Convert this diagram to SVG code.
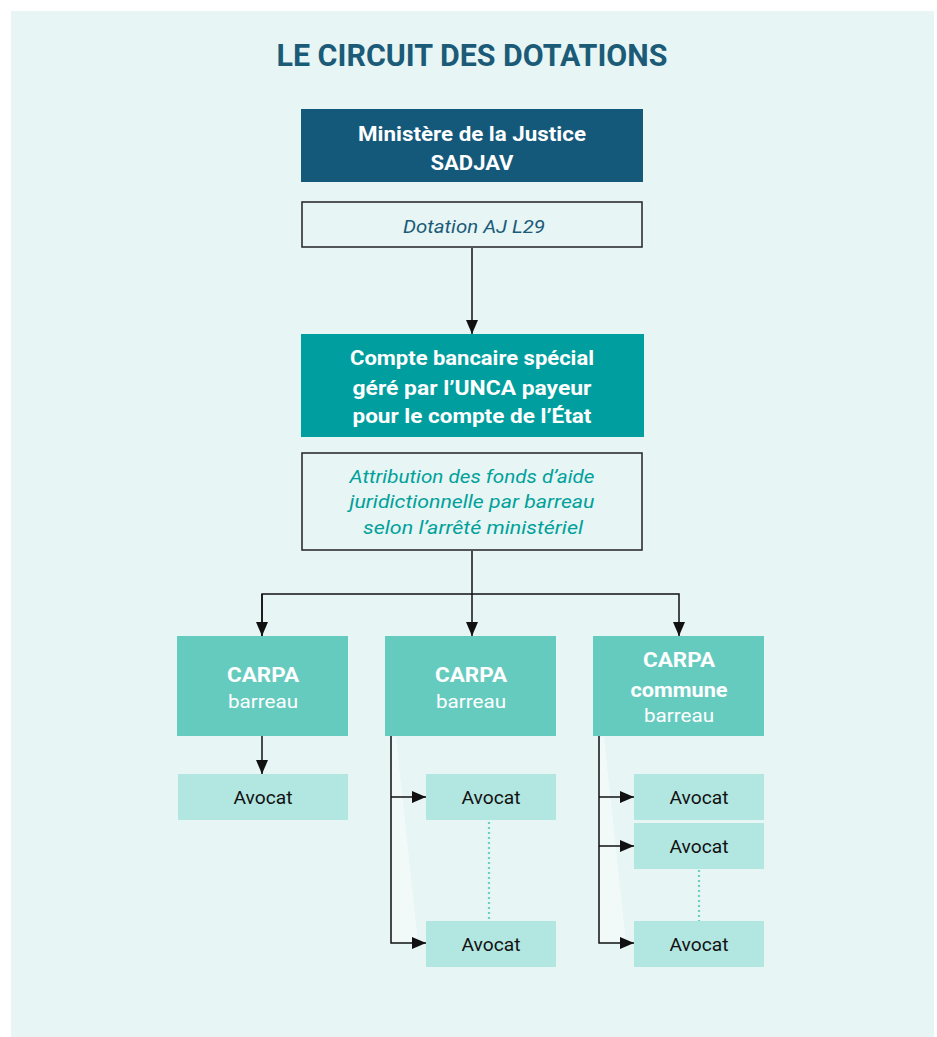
<svg xmlns="http://www.w3.org/2000/svg" width="937" height="1037" viewBox="0 0 937 1037">
<defs>
<marker id="arr" markerWidth="14" markerHeight="12" refX="14" refY="6" orient="auto" markerUnits="userSpaceOnUse" viewBox="0 0 14 12">
<path d="M0,0 L14,6 L0,12 Z" fill="#111"/>
</marker>
<style>
.t{font-family:Roboto,"Liberation Sans",sans-serif;text-anchor:middle}
.b{font-weight:bold;fill:#fff;font-size:21px}
.title{font-weight:bold;fill:#1b5b78;font-size:31px}
.it1{font-style:italic;fill:#1b5b78;font-size:19px}
.it2{font-style:italic;fill:#00a19a;font-size:19px}
.cw{fill:#fff;font-size:19px}
.av{fill:#111;font-size:19px}
.conn{fill:none;stroke:#111;stroke-width:1.5}
.dot{fill:none;stroke:#6ccfc6;stroke-width:2.2;stroke-dasharray:2 3}
.carpa{fill:#66cbbf}
.avbox{fill:#b2e6e0}
.frame{fill:#e7f5f5;stroke:#222;stroke-width:1.5}
</style>
</defs>
<rect x="11" y="11" width="923" height="1026" fill="#e7f5f5"/>
<text class="t title" x="472" y="66" textLength="391" lengthAdjust="spacingAndGlyphs">LE CIRCUIT DES DOTATIONS</text>

<g id="shades">
<polygon points="392,737 396,737 418,942 392,942" fill="#ffffff" opacity="0.45"/>
<polygon points="600,737 604,737 626,942 600,942" fill="#ffffff" opacity="0.45"/>
</g>

<g id="connectors">
<line class="conn" x1="472" y1="248" x2="472" y2="334" marker-end="url(#arr)"/>
<polyline class="conn" points="472,551 472,594"/>
<polyline class="conn" points="262,636 262,594 679,594 679,636" marker-end="url(#arr)"/>
<line class="conn" x1="262" y1="594" x2="262" y2="636" marker-end="url(#arr)"/>
<line class="conn" x1="472" y1="594" x2="472" y2="636" marker-end="url(#arr)"/>
<line class="conn" x1="262" y1="736" x2="262" y2="774" marker-end="url(#arr)"/>
<polyline class="conn" points="391,736 391,943 426,943" marker-end="url(#arr)"/>
<line class="conn" x1="391" y1="797" x2="426" y2="797" marker-end="url(#arr)"/>
<polyline class="conn" points="599,736 599,943 634,943" marker-end="url(#arr)"/>
<line class="conn" x1="599" y1="797" x2="634" y2="797" marker-end="url(#arr)"/>
<line class="conn" x1="599" y1="846" x2="634" y2="846" marker-end="url(#arr)"/>
<line class="dot" x1="489" y1="822" x2="489" y2="921"/>
<line class="dot" x1="699" y1="870" x2="699" y2="921"/>
</g>

<g id="ministere">
<rect x="301" y="109" width="342" height="73" fill="#14587a"/>
<text class="t b" x="472" y="141" textLength="228" lengthAdjust="spacingAndGlyphs">Ministère de la Justice</text>
<text class="t b" x="472" y="170" textLength="83" lengthAdjust="spacingAndGlyphs">SADJAV</text>
</g>

<g id="dotation">
<rect class="frame" x="302" y="202" width="340" height="45"/>
<text class="t it1" x="474" y="233" textLength="142" lengthAdjust="spacingAndGlyphs">Dotation AJ L29</text>
</g>

<g id="compte">
<rect x="301" y="334" width="343" height="103" fill="#009e9e"/>
<text class="t b" x="472" y="365" textLength="244" lengthAdjust="spacingAndGlyphs">Compte bancaire spécial</text>
<text class="t b" x="472" y="395" textLength="239" lengthAdjust="spacingAndGlyphs">géré par l’UNCA payeur</text>
<text class="t b" x="472" y="423" textLength="239" lengthAdjust="spacingAndGlyphs">pour le compte de l’État</text>
</g>

<g id="attribution">
<rect class="frame" x="302" y="453" width="340" height="97"/>
<text class="t it2" x="472" y="483" textLength="245" lengthAdjust="spacingAndGlyphs">Attribution des fonds d’aide</text>
<text class="t it2" x="472" y="508" textLength="245" lengthAdjust="spacingAndGlyphs">juridictionnelle par barreau</text>
<text class="t it2" x="473" y="534" textLength="220" lengthAdjust="spacingAndGlyphs">selon l’arrêté ministériel</text>
</g>

<g id="carpa1">
<rect class="carpa" x="177" y="636" width="171" height="100"/>
<text class="t b" x="263" y="682" textLength="72" lengthAdjust="spacingAndGlyphs">CARPA</text>
<text class="t cw" x="263" y="708" textLength="70" lengthAdjust="spacingAndGlyphs">barreau</text>
</g>

<g id="carpa2">
<rect class="carpa" x="385" y="636" width="171" height="100"/>
<text class="t b" x="471" y="682" textLength="72" lengthAdjust="spacingAndGlyphs">CARPA</text>
<text class="t cw" x="471" y="708" textLength="70" lengthAdjust="spacingAndGlyphs">barreau</text>
</g>

<g id="carpa3">
<rect class="carpa" x="593" y="636" width="171" height="100"/>
<text class="t b" x="679" y="667" textLength="72" lengthAdjust="spacingAndGlyphs">CARPA</text>
<text class="t b" x="679" y="697" textLength="97" lengthAdjust="spacingAndGlyphs">commune</text>
<text class="t cw" x="679" y="722" textLength="70" lengthAdjust="spacingAndGlyphs">barreau</text>
</g>

<g id="avocat1">
<rect class="avbox" x="178" y="774" width="170" height="46"/>
<text class="t av" x="263" y="804" textLength="59" lengthAdjust="spacingAndGlyphs">Avocat</text>
</g>
<g id="avocat2a">
<rect class="avbox" x="426" y="774" width="130" height="46"/>
<text class="t av" x="491" y="804" textLength="59" lengthAdjust="spacingAndGlyphs">Avocat</text>
</g>
<g id="avocat2b">
<rect class="avbox" x="426" y="921" width="130" height="46"/>
<text class="t av" x="491" y="951" textLength="59" lengthAdjust="spacingAndGlyphs">Avocat</text>
</g>
<g id="avocat3a">
<rect class="avbox" x="634" y="774" width="130" height="46"/>
<text class="t av" x="699" y="804" textLength="59" lengthAdjust="spacingAndGlyphs">Avocat</text>
</g>
<g id="avocat3b">
<rect class="avbox" x="634" y="823" width="130" height="46"/>
<text class="t av" x="699" y="853" textLength="59" lengthAdjust="spacingAndGlyphs">Avocat</text>
</g>
<g id="avocat3c">
<rect class="avbox" x="634" y="921" width="130" height="46"/>
<text class="t av" x="699" y="951" textLength="59" lengthAdjust="spacingAndGlyphs">Avocat</text>
</g>
</svg>
